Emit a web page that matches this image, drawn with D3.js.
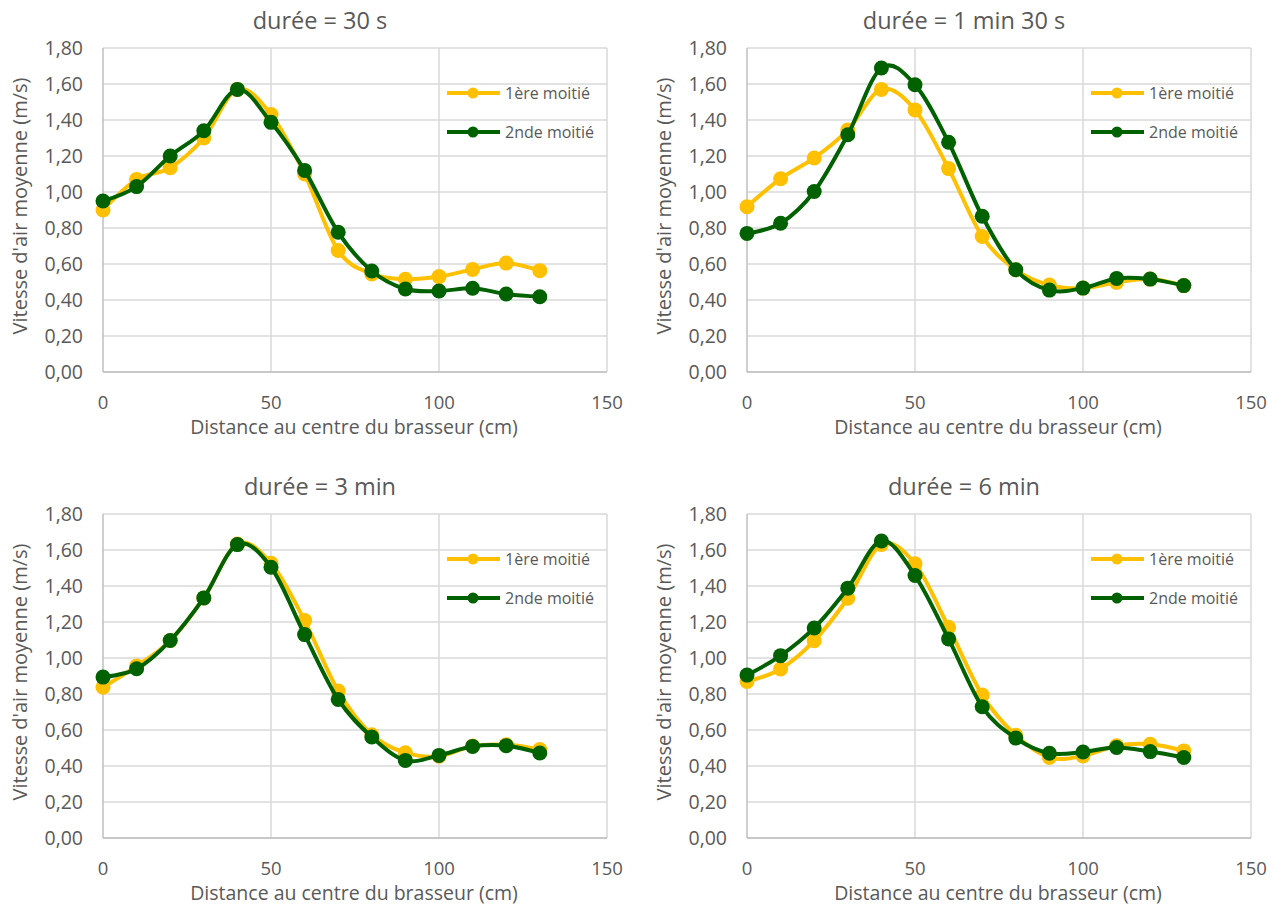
<!DOCTYPE html>
<html>
<head>
<meta charset="utf-8">
<script src="https://cdn.jsdelivr.net/npm/d3@7"></script>
<style>
  body { margin: 0; background: #fff; }
  svg { display: block; font-family: "Open Sans", "Noto Sans", sans-serif; }
</style>
</head>
<body>
<div id="chart"></div>
<script>
const width = 1279, height = 906;

// distances (cm)
const distances = [0, 10, 20, 30, 40, 50, 60, 70, 80, 90, 100, 110, 120, 130];
const seriesNames = ["1ère moitié", "2nde moitié"];
const seriesColors = ["#ffc000", "#006100"];
const titles = ["durée = 30 s", "durée = 1 min 30 s", "durée = 3 min", "durée = 6 min"];
const yTicks = [0, 0.2, 0.4, 0.6, 0.8, 1.0, 1.2, 1.4, 1.6, 1.8];
const xTicks = [0, 50, 100, 150];

// 30 s
const first30s  = [0.90, 1.07, 1.135, 1.30, 1.57, 1.43, 1.10, 0.675, 0.545, 0.515, 0.53, 0.57, 0.605, 0.563];
const second30s = [0.95, 1.03, 1.20, 1.34, 1.57, 1.387, 1.12, 0.776, 0.561, 0.461, 0.45, 0.465, 0.433, 0.418];
// 1 min 30 s
const first90s  = [0.918, 1.074, 1.189, 1.344, 1.57, 1.456, 1.13, 0.753, 0.568, 0.483, 0.466, 0.498, 0.516, 0.48];
const second90s = [0.77, 0.826, 1.003, 1.318, 1.689, 1.596, 1.276, 0.865, 0.568, 0.455, 0.466, 0.52, 0.516, 0.48];
// 3 min
const first3min  = [0.838, 0.955, 1.097, 1.334, 1.633, 1.526, 1.208, 0.816, 0.574, 0.474, 0.454, 0.511, 0.518, 0.491];
const second3min = [0.894, 0.94, 1.097, 1.334, 1.63, 1.504, 1.13, 0.77, 0.561, 0.431, 0.459, 0.509, 0.513, 0.472];
// 6 min
const first6min  = [0.87, 0.939, 1.096, 1.332, 1.631, 1.523, 1.171, 0.794, 0.571, 0.447, 0.456, 0.512, 0.521, 0.484];
const second6min = [0.905, 1.013, 1.167, 1.388, 1.65, 1.458, 1.106, 0.729, 0.555, 0.471, 0.478, 0.503, 0.48, 0.447];

const panelSeries = [
  [first30s, second30s],
  [first90s, second90s],
  [first3min, second3min],
  [first6min, second6min]
];

// panel offsets
const panels = [
  { ox: 0,   oy: 0 },
  { ox: 644, oy: 0 },
  { ox: 0,   oy: 466 },
  { ox: 644, oy: 466 }
];

const textColor = "#595959";
const gridColor = "#d9d9d9";

const svg = d3.select("#chart").append("svg")
  .attr("width", width)
  .attr("height", height);

function drawPanel(p, i) {
  const g = svg.append("g").attr("transform", `translate(${p.ox},${p.oy})`);
  const left = 103, right = 607, top = 48, bottom = 372;

  const x = d3.scaleLinear().domain([0, 150]).range([left, right]);
  const y = d3.scaleLinear().domain([0, 1.8]).range([bottom, top]);

  // horizontal gridlines
  g.selectAll(".hgrid")
    .data(yTicks)
    .enter().append("line")
    .attr("x1", left).attr("x2", right)
    .attr("y1", d => y(d)).attr("y2", d => y(d))
    .attr("stroke", gridColor)
    .attr("stroke-width", 1.5);

  // vertical gridlines
  g.selectAll(".vgrid")
    .data(xTicks)
    .enter().append("line")
    .attr("x1", d => x(d)).attr("x2", d => x(d))
    .attr("y1", top).attr("y2", bottom)
    .attr("stroke", d => d === 0 ? "#bfbfbf" : gridColor)
    .attr("stroke-width", 1.5);

  // bottom axis line
  g.append("line")
    .attr("x1", left).attr("x2", right)
    .attr("y1", bottom).attr("y2", bottom)
    .attr("stroke", "#bfbfbf")
    .attr("stroke-width", 1.5);

  // y tick labels
  g.selectAll(".ylab")
    .data(yTicks)
    .enter().append("text")
    .attr("x", left - 20)
    .attr("y", d => y(d) + 7)
    .attr("text-anchor", "end")
    .attr("font-size", "19.5px")
    .attr("fill", textColor)
    .text(d => d3.format(".2f")(d).replace(".", ","));

  // x tick labels
  g.selectAll(".xlab")
    .data(xTicks)
    .enter().append("text")
    .attr("x", d => x(d))
    .attr("y", bottom + 37)
    .attr("text-anchor", "middle")
    .attr("font-size", "18.5px")
    .attr("fill", textColor)
    .text(d => d);

  // title
  g.append("text")
    .attr("x", 320)
    .attr("y", 29)
    .attr("text-anchor", "middle")
    .attr("font-size", "23.5px")
    .attr("fill", textColor)
    .text(titles[i]);

  // axis titles
  g.append("text")
    .attr("x", (left + right) / 2 - 1)
    .attr("y", bottom + 62)
    .attr("text-anchor", "middle")
    .attr("font-size", "19.5px")
    .attr("fill", textColor)
    .text("Distance au centre du brasseur (cm)");

  g.append("text")
    .attr("transform", `translate(27,${(top + bottom) / 2 - 4}) rotate(-90)`)
    .attr("text-anchor", "middle")
    .attr("font-size", "20px")
    .attr("fill", textColor)
    .text("Vitesse d'air moyenne (m/s)");

  const line = d3.line()
    .x(d => x(d[0]))
    .y(d => y(d[1]))
    .curve(d3.curveCatmullRom.alpha(0));

  panelSeries[i].forEach((vals, s) => {
    const pts = distances.map((d, k) => [d, vals[k]]);
    g.append("path")
      .datum(pts)
      .attr("fill", "none")
      .attr("stroke", seriesColors[s])
      .attr("stroke-width", 4)
      .attr("d", line);
    g.selectAll(".pt" + s)
      .data(pts)
      .enter().append("circle")
      .attr("cx", d => x(d[0]))
      .attr("cy", d => y(d[1]))
      .attr("r", 7.5)
      .attr("fill", seriesColors[s]);
  });

  // legend
  seriesNames.forEach((name, s) => {
    const ly = 93 + s * 39;
    g.append("line")
      .attr("x1", 447).attr("x2", 500)
      .attr("y1", ly).attr("y2", ly)
      .attr("stroke", seriesColors[s])
      .attr("stroke-width", 4);
    g.append("circle")
      .attr("cx", 473).attr("cy", ly)
      .attr("r", 5.5)
      .attr("fill", seriesColors[s]);
    g.append("text")
      .attr("x", 505)
      .attr("y", ly + 6)
      .attr("font-size", "16px")
      .attr("fill", textColor)
      .text(name);
  });
}

panels.forEach(drawPanel);
</script>
</body>
</html>
